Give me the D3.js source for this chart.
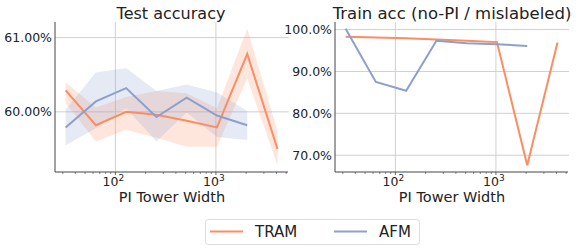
<!DOCTYPE html>
<html>
<head>
<meta charset="UTF-8">
<script src="https://d3js.org/d3.v7.min.js"></script>
<style>
  body { margin: 0; background: #fff; }
  text { font-family: "DejaVu Sans", sans-serif; fill: #222; }
</style>
</head>
<body>
<svg id="chart" width="582" height="249"></svg>
<script>
// tower widths shared by both panels
const widths = [32, 64, 128, 256, 512, 1024, 2048, 4096];

// test accuracy (%) with shaded spread
const tramTest   = [60.29, 59.82, 60.00, 59.96, 59.88, 59.79, 60.78, 59.50];
const tramTestLo = [60.12, 59.60, 59.76, 59.65, 59.53, 59.53, 60.45, 59.28];
const tramTestHi = [60.40, 60.06, 60.20, 60.28, 60.25, 60.05, 61.12, 59.74];
const afmTest    = [59.79, 60.14, 60.32, 59.93, 60.19, 59.95, 59.82];
const afmTestLo  = [59.55, 59.78, 60.05, 59.60, 59.99, 59.66, 59.62];
const afmTestHi  = [60.03, 60.53, 60.59, 60.28, 60.37, 60.26, 60.01];

// train accuracy on mislabeled data (%)
const tramTrain = [98.3, 98.1, 97.9, 97.6, 97.3, 97.0, 67.6, 96.9];
const afmTrain  = [100.2, 87.5, 85.4, 97.3, 96.7, 96.5, 96.1];

const leftTicks = [60, 61];
const rightTicks = [70, 80, 90, 100];

const ORANGE = "#fc8d62", BLUE = "#8da0cb";
const svg = d3.select("#chart");

function panel(opt) {
  const g = svg.append("g");
  const x = d3.scaleLog().domain([25.1, 5210]).range([opt.left, opt.left + 233]);
  const y = d3.scaleLinear().domain(opt.ydom).range([172, 22]);

  // grid
  g.selectAll(".gy").data(opt.yticks).enter().append("line")
    .attr("x1", opt.left).attr("x2", opt.left + 234)
    .attr("y1", d => y(d)).attr("y2", d => y(d))
    .attr("stroke", "#d0d0d0").attr("stroke-width", 1);
  g.selectAll(".gx").data([100, 1000]).enter().append("line")
    .attr("x1", d => x(d)).attr("x2", d => x(d))
    .attr("y1", 22).attr("y2", 172)
    .attr("stroke", "#d0d0d0").attr("stroke-width", 1);

  // bands + lines
  opt.series.forEach(s => {
    const xs = widths.slice(0, s.v.length);
    if (s.lo) {
      const area = d3.area()
        .x((d, i) => x(xs[i]))
        .y0((d, i) => y(s.lo[i]))
        .y1((d, i) => y(s.hi[i]));
      g.append("path").datum(s.v).attr("d", area)
        .attr("fill", s.color).attr("fill-opacity", 0.22);
    }
  });
  opt.series.forEach(s => {
    const xs = widths.slice(0, s.v.length);
    const line = d3.line().x((d, i) => x(xs[i])).y(d => y(d));
    g.append("path").datum(s.v).attr("d", line)
      .attr("fill", "none").attr("stroke", s.color).attr("stroke-width", 2);
  });

  // spines
  g.append("line").attr("x1", opt.left).attr("x2", opt.left)
    .attr("y1", 22).attr("y2", 172).attr("stroke", "#444");
  g.append("line").attr("x1", opt.left).attr("x2", opt.left + 233)
    .attr("y1", 172).attr("y2", 172).attr("stroke", "#444");

  // minor + major x ticks
  const minor = [];
  [10, 100, 1000].forEach(b => { for (let k = 2; k <= 9; k++) minor.push(b * k); });
  g.selectAll(".mt").data(minor.filter(d => d > 25.1 && d < 5210)).enter().append("line")
    .attr("x1", d => x(d)).attr("x2", d => x(d))
    .attr("y1", 172).attr("y2", 174).attr("stroke", "#444").attr("stroke-width", 0.6);
  [100, 1000].forEach((d, i) => {
    g.append("line").attr("x1", x(d)).attr("x2", x(d))
      .attr("y1", 172).attr("y2", 175).attr("stroke", "#444").attr("stroke-width", 0.8);
    const t = g.append("text").attr("x", x(d) - 2).attr("y", 186)
      .attr("text-anchor", "middle").style("font-size", "12.5px").text("10");
    t.append("tspan").attr("dy", -5).style("font-size", "9px").text(i + 2);
  });

  // y tick labels
  g.selectAll(".yl").data(opt.yticks).enter().append("text")
    .attr("x", opt.left - 3).attr("y", d => y(d) + 4.5)
    .attr("text-anchor", "end").style("font-size", "12.5px")
    .text(d => d.toFixed(opt.dec) + "%");

  g.append("text").attr("x", opt.left + 117).attr("y", 202)
    .attr("text-anchor", "middle").style("font-size", "14.5px").text("PI Tower Width");
  g.append("text").attr("x", opt.titleX).attr("y", 19)
    .attr("text-anchor", "middle").style("font-size", opt.titleSize).text(opt.title);
}

panel({
  left: 55, ydom: [59.19, 61.21], yticks: leftTicks, dec: 2,
  title: "Test accuracy", titleX: 171, titleSize: "16px",
  series: [
    { v: tramTest, lo: tramTestLo, hi: tramTestHi, color: ORANGE },
    { v: afmTest, lo: afmTestLo, hi: afmTestHi, color: BLUE }
  ]
});
panel({
  left: 335, ydom: [66.0, 101.8], yticks: rightTicks, dec: 1,
  title: "Train acc (no-PI / mislabeled)", titleX: 452, titleSize: "16.5px",
  series: [
    { v: tramTrain, color: ORANGE },
    { v: afmTrain, color: BLUE }
  ]
});

// legend
const lg = svg.append("g");
lg.append("rect").attr("x", 205.5).attr("y", 219.5).attr("width", 214).attr("height", 25)
  .attr("rx", 3).attr("fill", "#fff").attr("stroke", "#ddd");
[["TRAM", ORANGE, 210, 255], ["AFM", BLUE, 334, 379]].forEach(([name, c, lx, tx]) => {
  lg.append("line").attr("x1", lx).attr("x2", lx + 33).attr("y1", 231.5).attr("y2", 231.5)
    .attr("stroke", c).attr("stroke-width", 2);
  lg.append("text").attr("x", tx).attr("y", 237).style("font-size", "15px").text(name);
});
</script>
</body>
</html>
